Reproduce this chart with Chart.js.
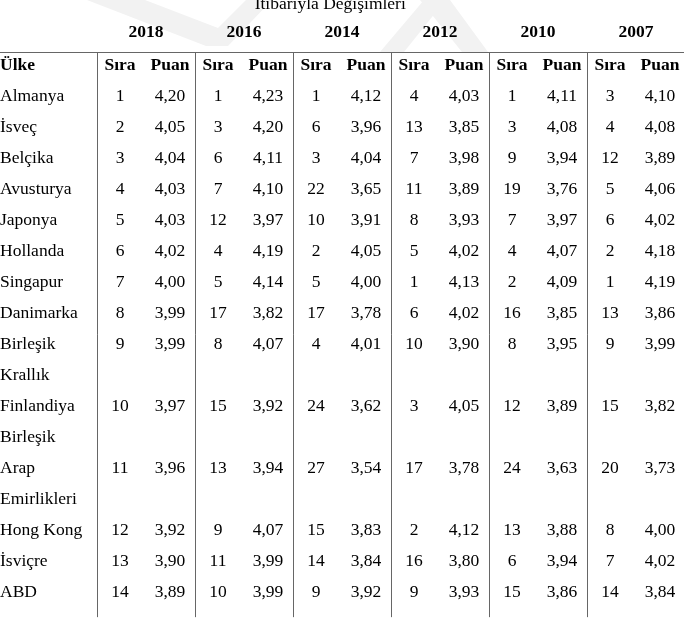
<!DOCTYPE html>
<html>
<head>
<meta charset="utf-8">
<script src="https://cdn.jsdelivr.net/npm/chart.js@4.4.0/dist/chart.umd.min.js"></script>
<style>
  html, body { margin: 0; padding: 0; background: #fff; }
  #table { display: block; }
</style>
</head>
<body>
<canvas id="table" width="684" height="624"></canvas>
<script>
// table data
const title = 'İtibarıyla Değişimleri';
const years = ['2018', '2016', '2014', '2012', '2010', '2007'];
const subHeaders = ['Sıra', 'Puan'];
const countryHeader = 'Ülke';
const countries = [
  ['Almanya'], ['İsveç'], ['Belçika'], ['Avusturya'], ['Japonya'], ['Hollanda'],
  ['Singapur'], ['Danimarka'], ['Birleşik', 'Krallık'], ['Finlandiya'],
  ['Birleşik', 'Arap', 'Emirlikleri'], ['Hong Kong'], ['İsviçre'], ['ABD']
];

const rank2018 = [1, 2, 3, 4, 5, 6, 7, 8, 9, 10, 11, 12, 13, 14];
const score2018 = [4.20, 4.05, 4.04, 4.03, 4.03, 4.02, 4.00, 3.99, 3.99, 3.97, 3.96, 3.92, 3.90, 3.89];
const rank2016 = [1, 3, 6, 7, 12, 4, 5, 17, 8, 15, 13, 9, 11, 10];
const score2016 = [4.23, 4.20, 4.11, 4.10, 3.97, 4.19, 4.14, 3.82, 4.07, 3.92, 3.94, 4.07, 3.99, 3.99];
const rank2014 = [1, 6, 3, 22, 10, 2, 5, 17, 4, 24, 27, 15, 14, 9];
const score2014 = [4.12, 3.96, 4.04, 3.65, 3.91, 4.05, 4.00, 3.78, 4.01, 3.62, 3.54, 3.83, 3.84, 3.92];
const rank2012 = [4, 13, 7, 11, 8, 5, 1, 6, 10, 3, 17, 2, 16, 9];
const score2012 = [4.03, 3.85, 3.98, 3.89, 3.93, 4.02, 4.13, 4.02, 3.90, 4.05, 3.78, 4.12, 3.80, 3.93];
const rank2010 = [1, 3, 9, 19, 7, 4, 2, 16, 8, 12, 24, 13, 6, 15];
const score2010 = [4.11, 4.08, 3.94, 3.76, 3.97, 4.07, 4.09, 3.85, 3.95, 3.89, 3.63, 3.88, 3.94, 3.86];
const rank2007 = [3, 4, 12, 5, 6, 2, 1, 13, 9, 15, 20, 8, 7, 14];
const score2007 = [4.10, 4.08, 3.89, 4.06, 4.02, 4.18, 4.19, 3.86, 3.99, 3.82, 3.73, 4.00, 4.02, 3.84];

const ranks = [rank2018, rank2016, rank2014, rank2012, rank2010, rank2007];
const scores = [score2018, score2016, score2014, score2012, score2010, score2007];

// layout in scale units: x = year group index, y = text line index
const FONT = '"Liberation Serif", "Times New Roman", serif';
const SIZE = '17.5px ';
const X_MIN = -0.99, X_MAX = 5.99;
const Y_MIN = -70 / 31, Y_MAX = 554 / 31;
const SIRA_OFF = 0.235, PUAN_OFF = 0.745;

function fmt(v) {
  return v.toFixed(2).replace('.', ',');
}

// each country can span several lines, values sit on the middle one
let line = 1;
const nameLines = [], nameTexts = [], valueLines = [];
countries.forEach(function(parts) {
  parts.forEach(function(p, k) {
    nameLines.push(line + k);
    nameTexts.push(p);
  });
  valueLines.push(line + Math.floor((parts.length - 1) / 2));
  line += parts.length;
});
const lastLine = line - 1;

const datasets = [];
datasets.push({
  label: countryHeader,
  data: nameLines.map(function(l) { return { x: X_MIN, y: l }; }),
  texts: nameTexts,
  align: 'left'
});
years.forEach(function(yr, i) {
  datasets.push({
    label: yr + ' ' + subHeaders[0],
    data: valueLines.map(function(l) { return { x: i + SIRA_OFF, y: l }; }),
    texts: ranks[i].map(String),
    align: 'center'
  });
  datasets.push({
    label: yr + ' ' + subHeaders[1],
    data: valueLines.map(function(l) { return { x: i + PUAN_OFF, y: l }; }),
    texts: scores[i].map(fmt),
    align: 'center'
  });
});

// faint watermark behind the header
const watermark = {
  id: 'watermark',
  beforeDatasetsDraw(chart) {
    const ctx = chart.ctx;
    ctx.save();
    ctx.fillStyle = '#f2f2f2';
    ctx.beginPath();
    ctx.moveTo(87, 0); ctx.lineTo(145, 0); ctx.lineTo(218, 28);
    ctx.lineTo(246, 0); ctx.lineTo(272, 0); ctx.lineTo(228, 46);
    ctx.lineTo(206, 46); ctx.closePath(); ctx.fill();
    ctx.beginPath();
    ctx.moveTo(420, 0); ctx.lineTo(450, 0); ctx.lineTo(488, 52);
    ctx.lineTo(462, 52); ctx.closePath(); ctx.fill();
    ctx.beginPath();
    ctx.moveTo(380, 52); ctx.lineTo(404, 52); ctx.lineTo(436, 12);
    ctx.lineTo(424, 0); ctx.closePath(); ctx.fill();
    ctx.restore();
  }
};

const tableText = {
  id: 'tableText',
  afterDatasetsDraw(chart) {
    const ctx = chart.ctx;
    const xs = chart.scales.x, ys = chart.scales.y;
    ctx.save();
    // rules
    ctx.strokeStyle = '#666';
    ctx.lineWidth = 1;
    const topY = Math.round(ys.getPixelForValue(-0.58)) + 0.5;
    const botY = ys.getPixelForValue(lastLine + 0.65);
    ctx.beginPath();
    ctx.moveTo(xs.left, topY);
    ctx.lineTo(xs.right, topY);
    for (let i = 0; i < years.length; i++) {
      const px = Math.round(xs.getPixelForValue(i)) + 0.5;
      ctx.moveTo(px, topY);
      ctx.lineTo(px, botY);
    }
    ctx.stroke();

    ctx.fillStyle = '#000';
    ctx.textBaseline = 'alphabetic';
    // title
    ctx.font = SIZE + FONT;
    ctx.textAlign = 'center';
    ctx.fillText(title, xs.getPixelForValue(2.38), ys.getPixelForValue(-1.97));
    // headers
    ctx.font = 'bold ' + SIZE + FONT;
    years.forEach(function(yr, i) {
      ctx.fillText(yr, xs.getPixelForValue(i + 0.5), ys.getPixelForValue(-1.05));
      ctx.fillText(subHeaders[0], xs.getPixelForValue(i + SIRA_OFF), ys.getPixelForValue(0));
      ctx.fillText(subHeaders[1], xs.getPixelForValue(i + PUAN_OFF), ys.getPixelForValue(0));
    });
    ctx.textAlign = 'left';
    ctx.fillText(countryHeader, xs.getPixelForValue(X_MIN), ys.getPixelForValue(0));

    // cells
    ctx.font = SIZE + FONT;
    chart.data.datasets.forEach(function(ds, i) {
      const meta = chart.getDatasetMeta(i);
      ctx.textAlign = ds.align;
      meta.data.forEach(function(el, j) {
        ctx.fillText(ds.texts[j], el.x, el.y);
      });
    });
    ctx.restore();
  }
};

new Chart(document.getElementById('table'), {
  type: 'scatter',
  data: { datasets: datasets },
  options: {
    responsive: false,
    animation: false,
    devicePixelRatio: 1,
    events: [],
    layout: { padding: 0 },
    elements: { point: { radius: 0, hoverRadius: 0 } },
    plugins: { legend: { display: false }, tooltip: { enabled: false } },
    scales: {
      x: { type: 'linear', min: X_MIN, max: X_MAX, display: false },
      y: { type: 'linear', min: Y_MIN, max: Y_MAX, reverse: true, display: false }
    }
  },
  plugins: [watermark, tableText]
});
</script>
</body>
</html>
